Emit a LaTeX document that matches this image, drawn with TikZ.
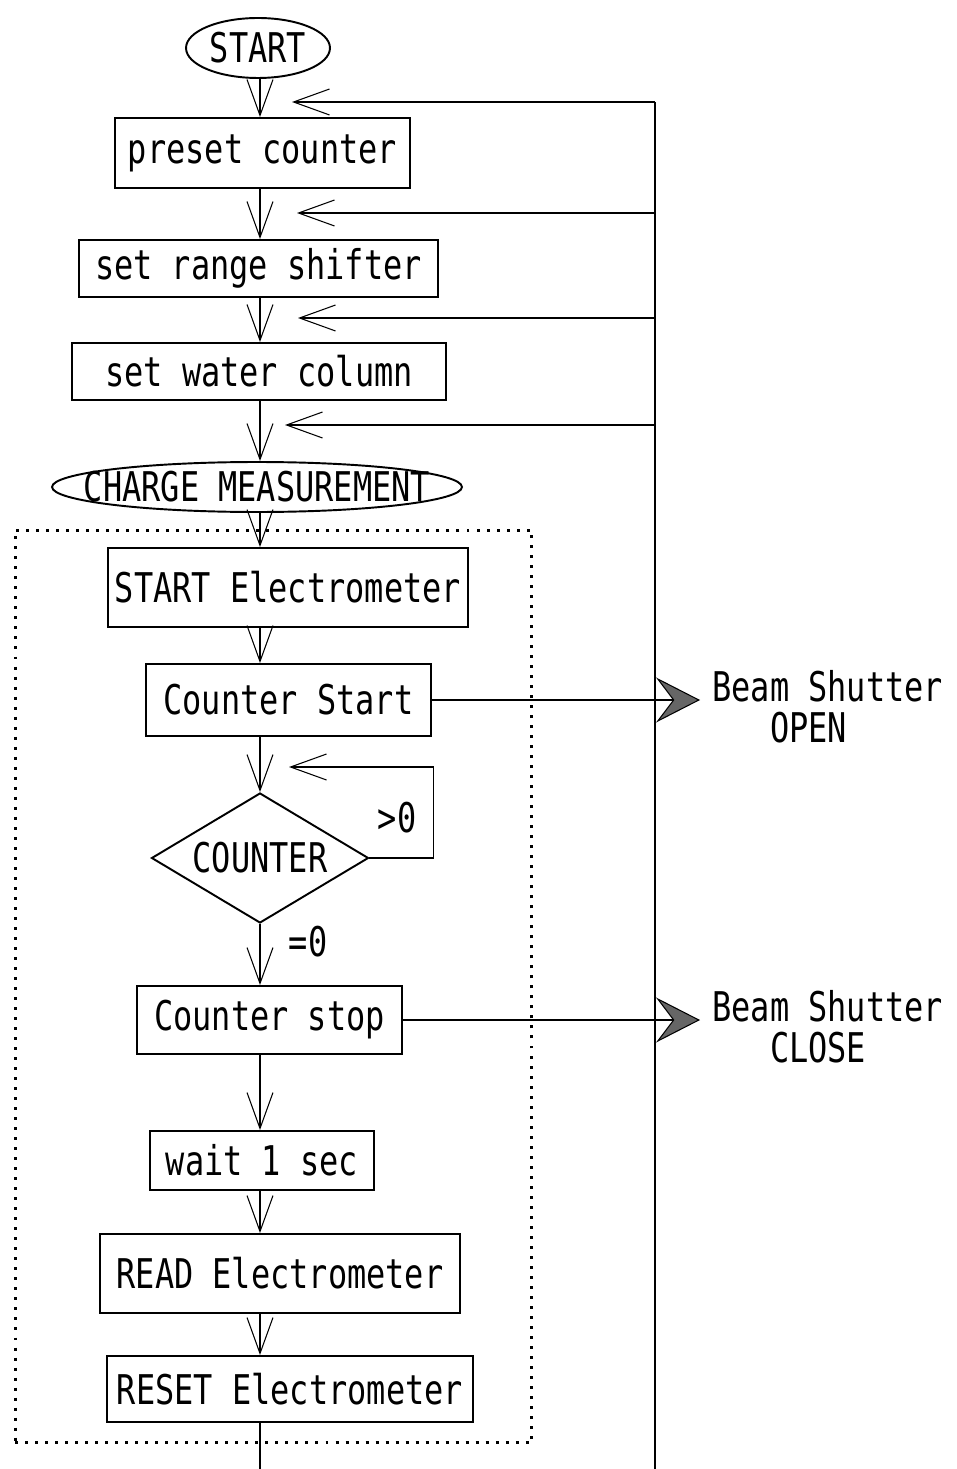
\documentclass[tikz,border=0pt]{standalone}
\usepackage{fontspec}
\newfontfamily\gothic[FakeStretch=0.78]{DejaVu Sans Mono}
\usepackage{tikz}
\usetikzlibrary{arrows.meta, positioning, shapes.geometric}

\begin{document}
\begin{tikzpicture}[
  x=0.02cm, y=-0.02cm,
  font=\gothic\fontsize{23.3}{23.3}\selectfont,
  box/.style={rectangle, draw=black, line width=1.1pt, inner sep=2pt},
  terminal/.style={ellipse, draw=black, line width=1.1pt, inner sep=0pt},
  decision/.style={diamond, draw=black, line width=1.1pt, inner sep=0pt},
  groupBox/.style={rectangle, draw=black, line width=1.7pt, dash pattern=on 1.7pt off 4pt, inner sep=0pt},
  flow/.style={draw=black, line width=0.6pt},
  arrow/.style={flow, -{Straight Barb[length=0.72cm, width=0.52cm]}},
  shutterArrow/.style={flow, -{Stealth[length=0.88cm, width=0.9cm, inset=0.34cm, fill=black!60]}},
  shutterText/.style={align=left, inner sep=0pt},
]
\useasboundingbox (0,0) rectangle (956,1469);

% ------------------- set-up steps -------------------
\node[terminal, minimum width=2.88cm, minimum height=1.2cm, label={center:START}] (start) at (258,48) {};
\node[box, minimum width=5.9cm, minimum height=1.4cm] (preset) at (262.5,153) {preset counter};
\node[box, minimum width=7.18cm, minimum height=1.14cm] (range) at (258.5,268.5) {set range shifter};
\node[box, minimum width=7.48cm, minimum height=1.14cm] (water) at (259,371.5) {set water column};
\node[terminal, minimum width=8.2cm, minimum height=1cm, label={center:CHARGE MEASUREMENT}] (charge) at (257,487) {};

% ------------------- charge measurement block -------------------
\node[groupBox, minimum width=10.34cm, minimum height=18.26cm] (measure) at (273.5,986.5) {};
\node[box, minimum width=7.2cm, minimum height=1.58cm] (startEl) at (288,587.5) {START Electrometer};
\node[box, minimum width=5.7cm, minimum height=1.44cm] (cStart) at (288.5,700) {Counter Start};
\node[decision, minimum width=4.34cm, minimum height=2.6cm, label={center:COUNTER}] (counter) at (260,858) {};
\node[box, minimum width=5.3cm, minimum height=1.36cm] (cStop) at (269.5,1020) {Counter stop};
\node[box, minimum width=4.48cm, minimum height=1.18cm] (wait) at (262,1160.5) {wait 1 sec};
\node[box, minimum width=7.2cm, minimum height=1.58cm] (readEl) at (280,1273.5) {READ Electrometer};
\node[box, minimum width=7.32cm, minimum height=1.32cm] (resetEl) at (290,1389) {RESET Electrometer};

% loop conditions
\node (gtZero) at (397,818) {>0};
\node (eqZero) at (308,942) {=0};

% ------------------- main flow -------------------
\coordinate (spine) at (260,0);
\coordinate (spineEnd) at (260,1469);
\foreach \a/\b in {start/preset, preset/range, range/water, water/charge, charge/startEl,
                   startEl/cStart, cStart/counter, counter/cStop, cStop/wait, wait/readEl, readEl/resetEl}
  \draw[arrow] (\a.south -| spine) -- (\b.north -| spine);
\draw[flow] (resetEl.south -| spine) -- (spineEnd);

% counter loop
\coordinate (loopTip) at (289,767);
\draw[arrow] (counter.east) -- ++(64,0) |- (loopTip);

% ------------------- return rail -------------------
\coordinate (railEnd) at (655,1469);
\foreach \n/\y/\t in {A/102/292, B/213/297, C/318/298, D/425/285}{
  \coordinate (rail\n) at (655,\y);
  \coordinate (tip\n) at (\t,\y);
  \draw[arrow] (rail\n) -- (tip\n);
}
\draw[flow] (railA) -- (railEnd);

% ------------------- beam shutter -------------------
\coordinate (openTip) at (700,700);
\coordinate (closeTip) at (700,1020);
\draw[shutterArrow] (cStart.east) -- (openTip);
\draw[shutterArrow] (cStop.east) -- (closeTip);
\node[shutterText, right=0.24cm of openTip, yshift=-0.14cm] (openText) {Beam Shutter\\\hphantom{Bea}OPEN};
\node[shutterText, right=0.24cm of closeTip, yshift=-0.14cm] (closeText) {Beam Shutter\\\hphantom{Bea}CLOSE};

\end{tikzpicture}
\end{document}
